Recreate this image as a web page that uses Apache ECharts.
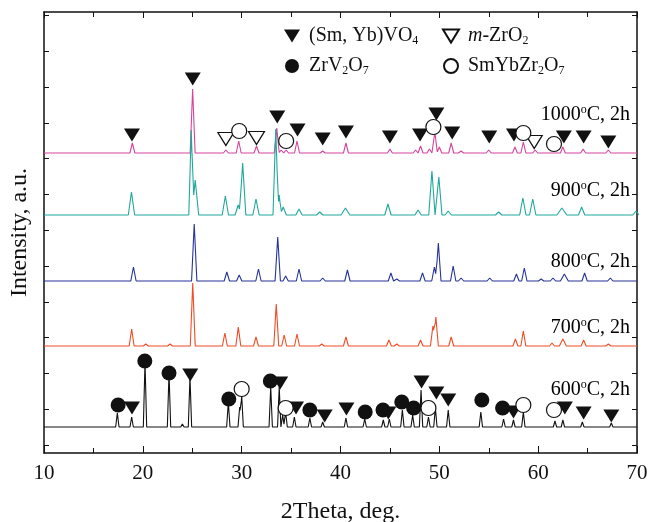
<!DOCTYPE html>
<html>
<head>
<meta charset="utf-8">
<script src="https://cdn.jsdelivr.net/npm/echarts@6/dist/echarts.min.js"></script>
<style>
  html, body { margin: 0; background: #fff; }
  #chart { width: 653px; height: 522px; }
</style>
</head>
<body>
<div id="chart"></div>
<script>
// XRD peaks: [2theta, height above the baseline, optional half width]
const peaks1000 = [[18.94,10],[25.04,64],[28.4,3],[29.7,12],[31.5,7],[33.55,25],[34.0,3],[34.5,3],[35.6,12],[38.2,2],
  [40.55,10],[45.0,4],[47.6,3],[48.1,7],[49.0,4],[49.55,21],[50.0,6],[51.2,10],[52.2,2],[55.0,3],[57.65,6],[58.5,11],
  [59.7,3],[62.5,6],[64.55,4],[67.1,3]]
const peaks900 = [[18.85,23],[24.9,85,0.25],[25.3,35,0.35],[28.35,19],[29.65,10],[30.1,52],[31.45,16],[33.45,86,0.28],
  [33.8,20,0.22],[34.2,8],[35.8,6],[37.9,3],[40.5,7,0.45],[44.8,11],[47.85,5],[49.25,44],[49.95,38],[50.9,4],[56.0,3],
  [58.45,17],[59.45,16],[62.4,7,0.5],[64.4,8],[69.9,4]]
const peaks800 = [[19.05,14],[25.2,57],[28.5,9],[29.75,6],[31.7,12],[33.65,44],[34.45,5],[35.8,12],[38.2,3],[40.7,11],
  [45.1,8],[45.7,2],[48.3,8],[49.5,14],[49.9,38],[51.4,15],[52.2,3],[55.1,3],[57.8,7],[58.6,13],[60.3,2],[61.5,3],
  [62.65,7,0.4],[64.7,8],[67.3,3]]
const peaks700 = [[18.87,17],[20.3,2],[22.75,2],[25.05,63],[28.3,13],[29.66,19],[31.45,9],[33.5,42],[34.3,11],
  [35.6,12],[38.1,2],[40.55,9],[44.9,6],[45.7,2],[48.1,6],[49.35,20],[49.65,29],[51.2,9],[57.7,7],[58.5,15],
  [61.4,3],[62.5,7,0.35],[64.6,6],[67.1,2]]
const peaks600 = [[17.42,14],[18.87,10],[20.22,65],[22.65,54],[24.0,3],[24.77,50],[26.6,2],[28.65,25],[29.8,20],
  [30.0,32],[32.94,40],[33.8,40],[34.15,12],[34.45,15],[35.33,10],[36.9,9],[38.2,5],[40.55,9],[42.45,8],[44.33,7],
  [44.94,8],[46.26,17],[47.3,12],[48.15,37],[48.9,10],[49.6,19],[50.9,17],[54.2,15],[56.5,8],[57.5,7],[58.5,15],
  [61.7,6],[62.5,7],[64.47,5],[67.4,4]]

// vertical offset of each pattern, same units as the peak heights
const offsets = { t1000: 292, t900: 230, t800: 164, t700: 99, t600: 18 }

// phase markers [2theta, level]
const vo4Marks = [[18.9,310],[25.05,366],[33.6,328],[35.65,315],[38.2,306],[40.55,313],[45.0,308],[48.05,310],
  [49.7,331],[51.3,312],[55.05,308],[57.55,310],[62.6,308],[64.6,308],[67.1,303],
  [18.9,37],[24.8,70],[33.9,62],[35.5,37],[38.4,29],[40.6,36],[44.84,32],[48.2,63],[49.7,52],[50.9,45],
  [57.5,33],[62.7,37],[64.6,32],[67.4,29]]
const zro2Marks = [[28.4,306],[31.5,307],[59.6,303]]
const zrv2o7Marks = [[17.5,40],[20.2,84],[22.65,72],[28.7,46],[32.9,64],[36.9,35],[42.5,33],[44.3,35],[46.2,43],
  [47.4,37],[54.3,45],[56.4,37]]
const pyroMarks = [[29.75,314],[34.5,304],[49.4,318],[58.5,312],[61.6,301],[30.0,56],[34.45,37],[48.9,37],
  [58.5,40],[61.6,35]]

const yTicks = [0, 35.8, 71.6, 107.4, 143.2, 179, 214.8, 250.6, 286.4, 322.2, 358, 393.8, 429.6]

const serif = 'Liberation Serif'

// sum of triangular peaks on a flat baseline
function buildTrace(peaks, offset, w) {
  const xs = new Set([10, 70])
  peaks.forEach(p => {
    const hw = p[2] || w
    xs.add(+(p[0] - hw).toFixed(3))
    xs.add(p[0])
    xs.add(+(p[0] + hw).toFixed(3))
  })
  return [...xs].sort((a, b) => a - b).map(x => {
    let y = offset
    peaks.forEach(p => {
      const hw = p[2] || w
      const d = Math.abs(x - p[0])
      if (d < hw) y += p[1] * (1 - d / hw)
    })
    return [x, y]
  })
}

const traces = [
  { data: buildTrace(peaks1000, offsets.t1000, 0.25), color: '#D5449C' },
  { data: buildTrace(peaks900, offsets.t900, 0.32), color: '#1FA89B' },
  { data: buildTrace(peaks800, offsets.t800, 0.27), color: '#27339A' },
  { data: buildTrace(peaks700, offsets.t700, 0.25), color: '#EF4B24' },
  { data: buildTrace(peaks600, offsets.t600, 0.17), color: '#111111' }
]

const N_VO4 = '(Sm, Yb)VO4'
const N_ZRO2 = 'm-ZrO2'
const N_ZRV = 'ZrV2O7'
const N_PYRO = 'SmYbZr2O7'

const richText = {
  n: { fontFamily: serif, fontSize: 20, color: '#111', lineHeight: 22 },
  i: { fontFamily: serif, fontSize: 20, color: '#111', lineHeight: 22, fontStyle: 'italic' },
  s: { fontFamily: serif, fontSize: 12, color: '#111', lineHeight: 12, verticalAlign: 'bottom' },
  u: { fontFamily: serif, fontSize: 12, color: '#111', lineHeight: 12, verticalAlign: 'top' }
}

const legendLabels = {}
legendLabels[N_VO4] = '{n|(Sm, Yb)VO}{s|4}'
legendLabels[N_ZRO2] = '{i|m}{n|-ZrO}{s|2}'
legendLabels[N_ZRV] = '{n|ZrV}{s|2}{n|O}{s|7}'
legendLabels[N_PYRO] = '{n|SmYbZr}{s|2}{n|O}{s|7}'

const triPath = 'path://M0,0L16,0L8,13Z'

const legendBase = {
  orient: 'vertical',
  top: 26,
  padding: 0,
  itemWidth: 16,
  itemHeight: 14,
  itemGap: 9,
  selectedMode: false,
  formatter: name => legendLabels[name],
  textStyle: { rich: richText, padding: [0, 0, 0, 4] }
}

const patternLabels = [
  { text: '1000', y: 115 },
  { text: '900', y: 191 },
  { text: '800', y: 262 },
  { text: '700', y: 328 },
  { text: '600', y: 390 }
]

const chart = echarts.init(document.getElementById('chart'))

const axisLine = { show: true, onZero: false, lineStyle: { color: '#111', width: 1.5 } }
const tickStyle = { color: '#111', width: 1 }

const option = {
  animation: false,
  backgroundColor: '#fff',
  grid: { left: 44, right: 16, top: 12, bottom: 69, outerBoundsMode: 'none', containLabel: false },
  legend: [
    Object.assign({}, legendBase, {
      left: 284,
      data: [{ name: N_VO4, icon: triPath }, { name: N_ZRV, icon: 'circle' }]
    }),
    Object.assign({}, legendBase, {
      left: 442,
      data: [{ name: N_ZRO2, icon: triPath }, { name: N_PYRO, icon: 'circle' }]
    })
  ],
  xAxis: [
    {
      type: 'value', min: 10, max: 70, interval: 10,
      axisLine,
      axisTick: { inside: true, length: 7, lineStyle: tickStyle },
      minorTick: { show: true, splitNumber: 2, length: 5, lineStyle: tickStyle },
      axisLabel: { fontFamily: serif, fontSize: 21, color: '#111', margin: 10 },
      splitLine: { show: false },
      name: '2Theta, deg.',
      nameLocation: 'middle',
      nameGap: 47,
      nameTextStyle: { fontFamily: serif, fontSize: 24, color: '#111' }
    },
    {
      type: 'value', position: 'top', min: 10, max: 70, interval: 10,
      axisLine,
      axisTick: { inside: true, length: 6, lineStyle: tickStyle },
      minorTick: { show: true, splitNumber: 2, length: 5, lineStyle: tickStyle },
      axisLabel: { show: false },
      splitLine: { show: false }
    }
  ],
  yAxis: [
    {
      type: 'value', min: -8, max: 433,
      axisLine,
      axisTick: { inside: true, length: 5, customValues: yTicks, lineStyle: tickStyle },
      axisLabel: { show: false },
      splitLine: { show: false },
      name: 'Intensity, a.u.',
      nameLocation: 'middle',
      nameGap: 12,
      nameTextStyle: { fontFamily: serif, fontSize: 24, color: '#111' }
    },
    {
      type: 'value', position: 'right', min: -8, max: 433,
      axisLine,
      axisTick: { inside: true, length: 5, customValues: yTicks, lineStyle: tickStyle },
      axisLabel: { show: false },
      splitLine: { show: false }
    }
  ],
  series: [
    ...traces.map(t => ({
      type: 'line',
      data: t.data,
      symbol: 'none',
      lineStyle: { color: t.color, width: 1.1 },
      z: 2
    })),
    {
      name: N_VO4, type: 'scatter', data: vo4Marks,
      symbol: triPath, symbolSize: [16, 13],
      itemStyle: { color: '#111', opacity: 1 }, z: 4
    },
    {
      name: N_ZRO2, type: 'scatter', data: zro2Marks,
      symbol: triPath, symbolSize: [16, 13],
      itemStyle: { color: '#fff', borderColor: '#111', borderWidth: 1.2, opacity: 1 }, z: 4
    },
    {
      name: N_ZRV, type: 'scatter', data: zrv2o7Marks,
      symbol: 'circle', symbolSize: 15,
      itemStyle: { color: '#111', opacity: 1 }, z: 3
    },
    {
      name: N_PYRO, type: 'scatter', data: pyroMarks,
      symbol: 'circle', symbolSize: 15,
      itemStyle: { color: '#fff', borderColor: '#111', borderWidth: 1.2, opacity: 1 }, z: 5
    }
  ],
  graphic: patternLabels.map(l => ({
    type: 'text',
    x: 630,
    y: l.y,
    z: 10,
    style: {
      text: '{n|' + l.text + '}{u|o}{n|C, 2h}',
      rich: richText,
      align: 'right',
      verticalAlign: 'middle'
    }
  }))
}

chart.setOption(option)
</script>
</body>
</html>
